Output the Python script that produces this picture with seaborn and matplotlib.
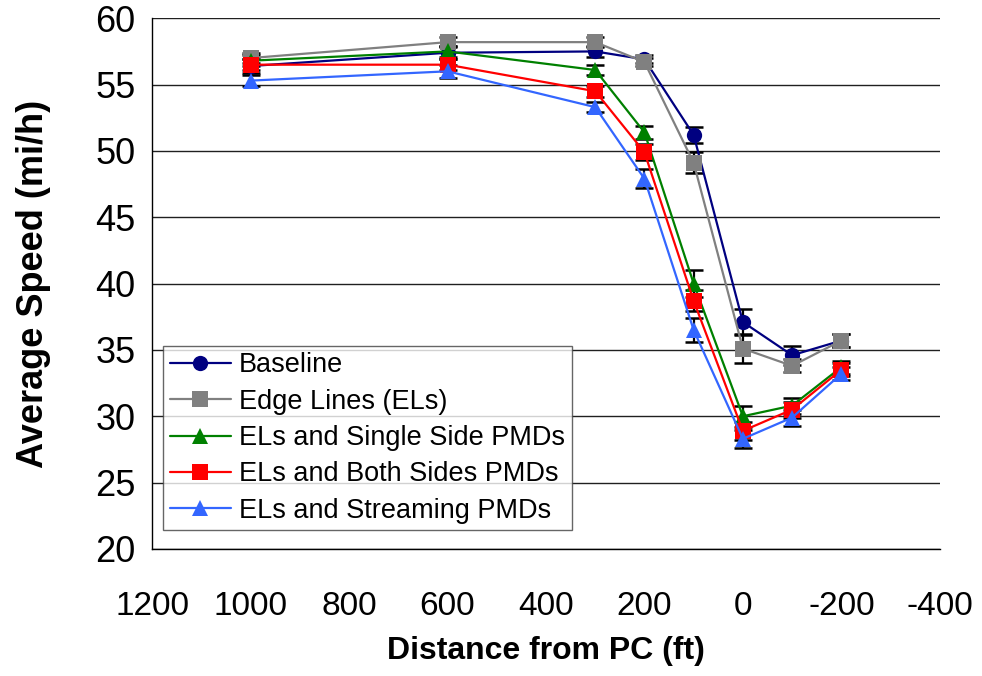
"""
Average speed by distance from the PC for five treatments
(error bars, long-form data drawn with seaborn).
"""

import pandas as pd
import seaborn as sns
import matplotlib.pyplot as plt

# ============================
# Data
# ============================
distance = [1000, 600, 300, 200, 100, 0, -100, -200]

series_names = [
    "Baseline",
    "Edge Lines (ELs)",
    "ELs and Single Side PMDs",
    "ELs and Both Sides PMDs",
    "ELs and Streaming PMDs",
]

baseline = [56.4, 57.4, 57.5, 56.9, 51.2, 37.1, 34.6, 35.7]
edge_lines = [57.0, 58.2, 58.2, 56.7, 49.1, 35.1, 33.8, 35.7]
single_side = [56.8, 57.5, 56.1, 51.4, 40.0, 30.0, 30.8, 33.7]
both_sides = [56.5, 56.5, 54.5, 49.9, 38.7, 28.9, 30.5, 33.5]
streaming = [55.3, 56.0, 53.3, 47.9, 36.5, 28.3, 29.9, 33.2]

baseline_err = [0.5, 0.5, 0.4, 0.3, 0.6, 1.0, 0.7, 0.5]
edge_lines_err = [0.4, 0.4, 0.4, 0.3, 0.8, 1.1, 0.5, 0.5]
single_side_err = [0.4, 0.4, 0.4, 0.5, 1.0, 0.8, 0.6, 0.5]
both_sides_err = [0.4, 0.4, 0.4, 0.6, 0.8, 0.7, 0.6, 0.5]
streaming_err = [0.4, 0.5, 0.4, 0.7, 0.9, 0.7, 0.6, 0.5]

x_ticks = [1200, 1000, 800, 600, 400, 200, 0, -200, -400]
y_ticks = [20, 25, 30, 35, 40, 45, 50, 55, 60]

# ============================
# Styling
# ============================
colors = ["#000080", "#808080", "#008000", "#FF0000", "#3366FF"]
markers = ["o", "s", "^", "s", "^"]

sns.set_theme(style="white")
plt.rcParams["font.family"] = ["Liberation Sans", "DejaVu Sans"]
for key in ["text.color", "axes.labelcolor", "xtick.color", "ytick.color"]:
    plt.rcParams[key] = "black"


def build_frame():
    """Stack the series into one long-form table."""
    values = [baseline, edge_lines, single_side, both_sides, streaming]
    errors = [baseline_err, edge_lines_err, single_side_err, both_sides_err, streaming_err]
    rows = []
    for name, vals, errs in zip(series_names, values, errors):
        for d, v, e in zip(distance, vals, errs):
            rows.append({"distance": d, "speed": v, "err": e, "treatment": name})
    return pd.DataFrame(rows)


def main():
    df = build_frame()

    fig = plt.figure(figsize=(9.82, 6.76), dpi=100)
    ax = fig.add_axes([0.155, 0.188, 0.802, 0.785])

    # black error bars behind the series
    ax.errorbar(df["distance"], df["speed"], yerr=df["err"], fmt="none",
                ecolor="black", elinewidth=1.6, capsize=6.5, capthick=1.8, zorder=2)

    sns.lineplot(data=df, x="distance", y="speed", hue="treatment", style="treatment",
                 hue_order=series_names, style_order=series_names,
                 palette=colors, markers=markers, dashes=False, sort=False,
                 markersize=11, markeredgewidth=0, linewidth=1.6,
                 estimator=None, ax=ax, zorder=3)

    # axes ranges, reversed distance axis
    ax.set_xlim(1200, -400)
    ax.set_ylim(20, 60)
    ax.set_xticks(x_ticks)
    ax.set_yticks(y_ticks)
    ax.set_xticklabels([str(t) for t in x_ticks], fontsize=24)
    ax.set_yticklabels([str(t) for t in y_ticks], fontsize=26)

    ax.yaxis.grid(True, color="#202020", linewidth=1.0)
    ax.set_axisbelow(True)

    for side in ["top", "right"]:
        ax.spines[side].set_visible(False)
    for side in ["left", "bottom"]:
        ax.spines[side].set_color("black")
        ax.spines[side].set_linewidth(1.0)

    ax.tick_params(axis="y", direction="inout", length=12, width=1.0, color="black", pad=6)
    ax.tick_params(axis="x", direction="out", length=8, width=1.0, color="black", pad=22)

    ax.set_xlabel("Distance from PC (ft)", fontsize=23, fontweight="bold")
    ax.set_ylabel("Average Speed (mi/h)", fontsize=26, fontweight="bold")
    ax.xaxis.set_label_coords(0.5, -0.165)
    ax.yaxis.set_label_coords(-0.128, 0.5)

    leg = ax.legend(loc="lower left", bbox_to_anchor=(0.014, 0.035), fontsize=19.5,
                    frameon=True, fancybox=False, edgecolor="#404040",
                    handlelength=2.25, handletextpad=0.3, labelspacing=0.38,
                    borderpad=0.25, borderaxespad=0)
    leg.get_frame().set_linewidth(1.0)

    fig.savefig("out.png", dpi=100)
    plt.close(fig)


if __name__ == "__main__":
    main()
